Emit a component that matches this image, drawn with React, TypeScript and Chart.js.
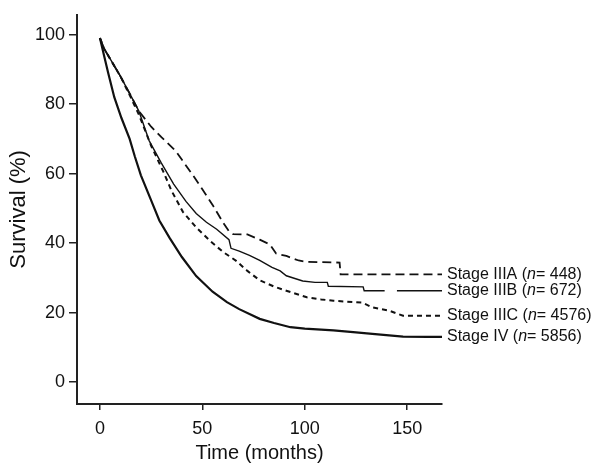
import React, { useEffect, useRef } from "react";
import { Chart, registerables } from "chart.js";

Chart.register(...registerables);

const FONT = "'Liberation Sans', Arial, Helvetica, sans-serif";

const xTicks = [0, 50, 100, 150];
const yTicks = [0, 20, 40, 60, 80, 100];

const stageNames = ["Stage IIIA", "Stage IIIB", "Stage IIIC", "Stage IV"];
const stageN = ["448", "672", "4576", "5856"];

const timeIIIA = [0, 2, 5, 10, 15, 19, 25, 30, 37, 46, 50, 55, 60, 63, 65, 72, 78, 83, 86, 91, 97, 101, 117, 117.5, 167];
const survIIIA = [99, 96, 93, 88, 82.5, 78, 73.5, 70.5, 66.5, 59, 55.5, 51, 46, 43.4, 42.6, 42.5, 41, 39.6, 37, 36.3, 35, 34.6, 34.4, 31, 31];

const timeIIIB = [0, 2, 5, 10, 15, 19, 24, 30, 36, 42, 47, 52, 57, 63, 64, 68, 73, 78, 84, 88, 91, 99, 105, 111, 111.5, 128.5, 129, 139, 142, 145, 167];
const survIIIB: (number | null)[] = [99, 96, 93, 88, 82.5, 78, 69.5, 63, 57, 52, 48.5, 46, 44, 41, 38.5, 37.7, 36.5, 35, 33, 32, 30.6, 29.1, 28.7, 28.7, 27.6, 27.4, 26.3, 26.3, null, 26.3, 26.3];

const timeIIIC = [0, 2, 5, 10, 15, 19, 25, 31, 35, 40.5, 47, 54, 60, 66.5, 72, 78, 85, 91, 101, 108, 114, 128, 133, 141, 148, 167];
const survIIIC = [99, 96, 93, 88, 82, 77, 68, 60.5, 55, 49, 44.5, 40.5, 37.5, 34.9, 32, 29.3, 27.5, 26.3, 24.4, 23.8, 23.4, 22.9, 21.5, 20.6, 19.1, 19.1];

const timeIV = [0, 2, 4, 7, 10.5, 14.5, 17, 20, 24.5, 29, 34, 40, 47, 55, 62, 68, 78, 85, 93, 100, 114, 125, 133, 148, 160, 167];
const survIV = [99, 94, 89, 82, 76, 70, 65, 59.5, 53, 46.5, 41.5, 36, 30.5, 26, 23, 21, 18.2, 17, 15.8, 15.4, 14.9, 14.3, 13.9, 13.1, 13, 13];

const toPoints = (t: number[], v: (number | null)[]) => t.map((x, i) => ({ x, y: v[i] }));

const labelPlugin = {
  id: "endLabels",
  afterDatasetsDraw(chart: any) {
    const ctx = chart.ctx;
    const x0 = chart.chartArea.right + 5;
    chart.data.datasets.forEach((_ds: any, i: number) => {
      const meta = chart.getDatasetMeta(i);
      const pt = meta.data[meta.data.length - 1];
      const y = pt.y;
      ctx.save();
      ctx.fillStyle = "#111";
      ctx.textBaseline = "middle";
      ctx.textAlign = "left";
      let x = x0;
      const parts: [string, boolean][] = [
        [`${stageNames[i]} (`, false],
        ["n", true],
        [`= ${stageN[i]})`, false],
      ];
      for (const [txt, it] of parts) {
        ctx.font = `${it ? "italic " : ""}16px ${FONT}`;
        ctx.fillText(txt, x, y);
        x += ctx.measureText(txt).width;
      }
      ctx.restore();
    });
  },
};

export default function App() {
  const ref = useRef<HTMLCanvasElement | null>(null);

  useEffect(() => {
    document.body.style.margin = "0";
    if (!ref.current) return;
    const axisColor = "#222";
    const chart = new Chart(ref.current, {
      type: "scatter",
      data: {
        datasets: [
          {
            data: toPoints(timeIIIA, survIIIA),
            borderColor: "#111",
            borderWidth: 1.8,
            borderDash: [9, 5],
            showLine: true,
            pointRadius: 0,
            tension: 0,
          },
          {
            data: toPoints(timeIIIB, survIIIB),
            borderColor: "#111",
            borderWidth: 1.4,
            showLine: true,
            spanGaps: false,
            pointRadius: 0,
            tension: 0,
          },
          {
            data: toPoints(timeIIIC, survIIIC),
            borderColor: "#111",
            borderWidth: 2,
            borderDash: [5, 4],
            showLine: true,
            pointRadius: 0,
            tension: 0,
          },
          {
            data: toPoints(timeIV, survIV),
            borderColor: "#111",
            borderWidth: 2.2,
            showLine: true,
            pointRadius: 0,
            tension: 0,
          },
        ],
      },
      options: {
        animation: false,
        responsive: true,
        maintainAspectRatio: false,
        layout: { padding: { top: 12, right: 150, bottom: 0, left: 0 } },
        plugins: { legend: { display: false }, tooltip: { enabled: false } },
        scales: {
          x: {
            type: "linear",
            min: -11.2,
            max: 167,
            afterBuildTicks: (s: any) => {
              s.ticks = xTicks.map((v) => ({ value: v }));
            },
            afterFit: (s: any) => {
              s.height = 61;
            },
            grid: {
              drawOnChartArea: false,
              drawTicks: true,
              tickLength: 6,
              color: axisColor,
              lineWidth: 1.5,
            },
            border: { display: true, color: axisColor, width: 2 },
            ticks: {
              font: { family: FONT, size: 18 },
              color: "#111",
              padding: 8,
              maxRotation: 0,
            },
            title: {
              display: true,
              text: "Time (months)",
              font: { family: FONT, size: 20 },
              color: "#111",
              padding: { top: 0, bottom: 0 },
            },
          },
          y: {
            type: "linear",
            min: -6.3,
            max: 105.7,
            afterBuildTicks: (s: any) => {
              s.ticks = yTicks.map((v) => ({ value: v }));
            },
            afterFit: (s: any) => {
              s.width = 77;
            },
            grid: {
              drawOnChartArea: false,
              drawTicks: true,
              tickLength: 8,
              color: axisColor,
              lineWidth: 1.5,
            },
            border: { display: true, color: axisColor, width: 2 },
            ticks: {
              font: { family: FONT, size: 18 },
              color: "#111",
              padding: 4,
            },
            title: {
              display: true,
              text: "Survival (%)",
              font: { family: FONT, size: 22 },
              color: "#111",
              padding: { top: 6, bottom: 0 },
            },
          },
        },
      },
      plugins: [labelPlugin],
    } as any);
    return () => chart.destroy();
  }, []);

  return (
    <div style={{ width: 592, height: 465, position: "relative" }}>
      <canvas ref={ref} />
    </div>
  );
}
